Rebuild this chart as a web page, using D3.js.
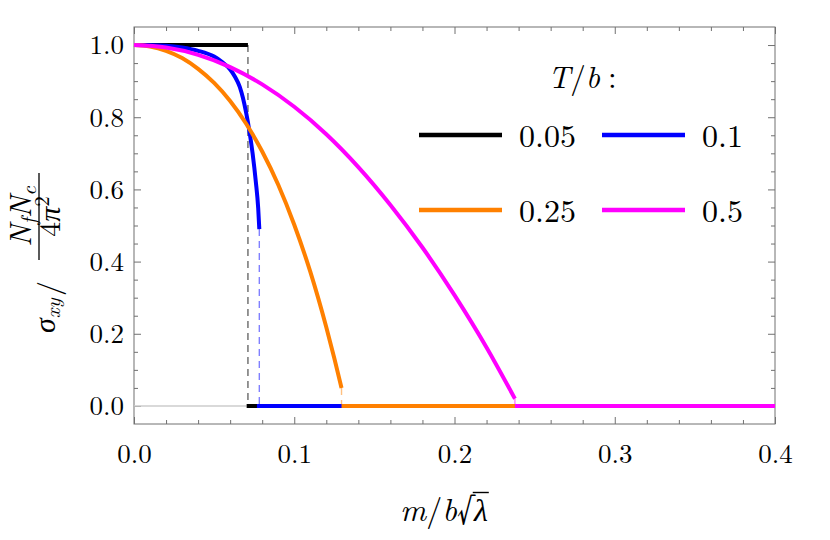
<!DOCTYPE html>
<html>
<head>
<meta charset="utf-8">
<script src="https://cdn.jsdelivr.net/npm/d3@7/dist/d3.min.js"></script>
<style>
body { margin: 0; background: #fff; }
</style>
</head>
<body>
<script>
// Chart data.
var xTicks = [0, 0.1, 0.2, 0.3, 0.4],
  yTicks = [0, 0.2, 0.4, 0.6, 0.8, 1.0],
  seriesNames = ["0.05", "0.1", "0.25", "0.5"];

var blackX = [0, 0.0711],
  blackY = [1, 1];
var blueX = [0, 0.01, 0.02, 0.03, 0.04, 0.05, 0.055, 0.06, 0.063, 0.066, 0.068, 0.070, 0.072, 0.074, 0.076, 0.0775, 0.0782],
  blueY = [1, 0.9995, 0.998, 0.993, 0.984, 0.968, 0.953, 0.932, 0.912, 0.884, 0.853, 0.812, 0.762, 0.700, 0.622, 0.548, 0.49];
var orangeX = [0, 0.01, 0.02, 0.03, 0.04, 0.05, 0.06, 0.07, 0.08, 0.09, 0.10, 0.11, 0.12, 0.125, 0.1295],
  orangeY = [1, 0.996, 0.984, 0.964, 0.934, 0.895, 0.845, 0.782, 0.705, 0.613, 0.502, 0.372, 0.218, 0.132, 0.05];
var magentaX = [0, 0.02, 0.04, 0.06, 0.08, 0.10, 0.12, 0.14, 0.16, 0.18, 0.20, 0.22, 0.2377],
  magentaY = [1, 0.993, 0.973, 0.939, 0.891, 0.829, 0.753, 0.662, 0.557, 0.439, 0.307, 0.162, 0.02];

// Where each branch drops to zero, and where its zero branch starts.
var jumpX = [0.0711, 0.0782, 0.1295, 0.2377],
  jumpTop = [1.0, 0.49, 0.05, 0.02],
  zeroStart = [0.0703, 0.0767, 0.1295, 0.2377],
  zeroEnd = 0.4;
var grayX = [0, 0.0703];

// Configuration.
var width = 830,
  height = 540,
  font = "'Latin Modern Roman', 'CMU Serif', 'Liberation Serif', serif",
  colors = ["#000000", "#0000ff", "#ff8000", "#ff00ff"],
  dashColors = ["#6a6a6a", "#8080ff", "#ffc080", "#ff80ff"],
  lineWidth = 4,
  frameColor = "#707070",
  majorTick = 7,
  minorTick = 4;

var x = d3.scaleLinear().domain([0, 0.4]).range([134, 775]),
  y = d3.scaleLinear().domain([-0.05, 1.05]).range([424, 27]),
  fmt = d3.format(".1f");

var svg = d3.select("body").append("svg")
    .attr("width", width)
    .attr("height", height)
    .style("font-family", font);

// Axes: labelled major ticks, unlabelled minor ticks, ticks on every side.
function notMajor(step) {
  return function(v) { return Math.abs(v / step - Math.round(v / step)) > 1e-6; };
}
var xMinor = d3.range(0, 0.4001, 0.02).filter(notMajor(0.1)),
  yMinor = d3.range(0, 1.0001, 0.05).filter(notMajor(0.2));

function frameAxis(axisFn, scale, values, size, translate, labels) {
  var g = svg.append("g")
      .attr("transform", translate)
      .call(axisFn(scale)
        .tickValues(values)
        .tickSizeInner(-size)
        .tickSizeOuter(0)
        .tickFormat(labels ? fmt : ""));
  g.select(".domain").remove();
  g.selectAll("line").attr("stroke", frameColor);
  g.selectAll("text")
      .style("font-family", font)
      .style("font-size", "27px")
      .attr("fill", "#000");
  return g;
}

frameAxis(d3.axisBottom, x, xTicks, majorTick, "translate(0,424)", true)
  .selectAll("text")
    .attr("y", 39)
    .attr("dy", 0);
frameAxis(d3.axisBottom, x, xMinor, minorTick, "translate(0,424)");
frameAxis(d3.axisTop, x, xTicks, majorTick, "translate(0,27)");
frameAxis(d3.axisTop, x, xMinor, minorTick, "translate(0,27)");
frameAxis(d3.axisLeft, y, yTicks, majorTick, "translate(134,0)", true)
  .selectAll("text")
    .attr("x", -10)
    .attr("dy", "0.33em");
frameAxis(d3.axisLeft, y, yMinor, minorTick, "translate(134,0)");
frameAxis(d3.axisRight, y, yTicks, majorTick, "translate(775,0)");
frameAxis(d3.axisRight, y, yMinor, minorTick, "translate(775,0)");

svg.append("rect")
    .attr("x", x(0))
    .attr("y", y(1.05))
    .attr("width", x(0.4) - x(0))
    .attr("height", y(-0.05) - y(1.05))
    .attr("fill", "none")
    .attr("stroke", frameColor)
    .attr("stroke-width", 1);

var plot = svg.append("g");

var line = d3.line()
    .x(function(d) { return x(d[0]); })
    .y(function(d) { return y(d[1]); })
    .curve(d3.curveMonotoneX);

// Thin gray zero line before the first transition.
plot.append("path")
    .attr("d", line(grayX.map(function(v) { return [v, 0]; })))
    .attr("fill", "none")
    .attr("stroke", "#cccccc")
    .attr("stroke-width", 1.5);

// Dashed drops at the transitions.
plot.selectAll(".drop")
    .data(jumpX)
  .enter().append("line")
    .attr("class", "drop")
    .attr("x1", function(d) { return x(d); })
    .attr("x2", function(d) { return x(d); })
    .attr("y1", function(d, i) { return y(jumpTop[i]); })
    .attr("y2", y(0))
    .attr("stroke", function(d, i) { return dashColors[i]; })
    .attr("stroke-width", 1.4)
    .attr("stroke-dasharray", "7,5");

// Zero branches, drawn in order so each hides the one before.
plot.selectAll(".zero")
    .data(zeroStart)
  .enter().append("line")
    .attr("class", "zero")
    .attr("x1", function(d) { return x(d); })
    .attr("x2", x(zeroEnd))
    .attr("y1", y(0))
    .attr("y2", y(0))
    .attr("stroke", function(d, i) { return colors[i]; })
    .attr("stroke-width", lineWidth);

// Upper branches.
var upper = [[blackX, blackY], [blueX, blueY], [orangeX, orangeY], [magentaX, magentaY]];
plot.selectAll(".curve")
    .data(upper)
  .enter().append("path")
    .attr("class", "curve")
    .attr("d", function(s) {
      return line(s[0].map(function(v, i) { return [v, s[1][i]]; }));
    })
    .attr("fill", "none")
    .attr("stroke", function(d, i) { return colors[i]; })
    .attr("stroke-width", lineWidth);

// Legend.
var title = svg.append("text")
    .attr("x", 548)
    .attr("y", 88)
    .style("font-size", "31px");
title.append("tspan").style("font-style", "italic").text("T");
title.append("tspan").text("/");
title.append("tspan").style("font-style", "italic").text("b");
title.append("tspan").attr("dx", 8).text(":");

var legend = svg.selectAll(".legend")
    .data(seriesNames)
  .enter().append("g")
    .attr("class", "legend")
    .attr("transform", function(d, i) {
      return "translate(" + (419 + (i % 2) * 183) + "," + (135 + Math.floor(i / 2) * 75) + ")";
    });
legend.append("line")
    .attr("x1", 0)
    .attr("x2", 83)
    .attr("stroke", function(d, i) { return colors[i]; })
    .attr("stroke-width", 4.5);
legend.append("text")
    .attr("x", 100)
    .attr("y", 12)
    .style("font-size", "32px")
    .text(function(d) { return d; });

// x label: m / b sqrt(lambda).
var xl = svg.append("text")
    .attr("x", 400)
    .attr("y", 521)
    .style("font-size", "32px");
xl.append("tspan").style("font-style", "italic").text("m");
xl.append("tspan").text("/");
xl.append("tspan").style("font-style", "italic").text("b");
xl.append("tspan").style("font-size", "36px").text("\u221A");
xl.append("tspan").style("font-style", "italic").text("\u03BB");
var rootBox = xl.node().getExtentOfChar(3),
  lamBox = xl.node().getExtentOfChar(4);
svg.append("line")
    .attr("x1", rootBox.x + rootBox.width - 1.2)
    .attr("x2", lamBox.x + lamBox.width + 1)
    .attr("y1", 492.5)
    .attr("y2", 492.5)
    .attr("stroke", "#000")
    .attr("stroke-width", 1.4);

// y label: sigma_xy / (N_f N_c / 4 pi^2), rotated.
var yl = svg.append("g")
    .attr("transform", "translate(55,333) rotate(-90)");
var sig = yl.append("text").style("font-size", "30px");
sig.append("tspan").style("font-style", "italic").text("\u03C3");
sig.append("tspan").attr("dy", 5).style("font-size", "21px").style("font-style", "italic").text("xy");
yl.append("text")
    .attr("x", 37)
    .attr("y", 4)
    .style("font-size", "30px")
    .text("/");
yl.append("line")
    .attr("x1", 73)
    .attr("x2", 160)
    .attr("y1", -16)
    .attr("y2", -16)
    .attr("stroke", "#000")
    .attr("stroke-width", 1.3);
var num = yl.append("text")
    .attr("x", 116.5)
    .attr("y", -24)
    .attr("text-anchor", "middle")
    .style("font-size", "30px");
num.append("tspan").style("font-style", "italic").text("N");
num.append("tspan").attr("dy", 5).style("font-size", "21px").style("font-style", "italic").text("f");
num.append("tspan").attr("dy", -5).style("font-style", "italic").text("N");
num.append("tspan").attr("dy", 5).style("font-size", "21px").style("font-style", "italic").text("c");
var den = yl.append("text")
    .attr("x", 116.5)
    .attr("y", 5)
    .attr("text-anchor", "middle")
    .style("font-size", "30px");
den.append("tspan").text("4");
den.append("tspan").style("font-style", "italic").text("\u03C0");
den.append("tspan").attr("dy", -11).style("font-size", "21px").text("2");
</script>
</body>
</html>
